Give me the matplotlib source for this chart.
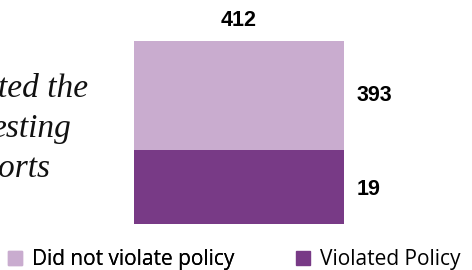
import matplotlib
matplotlib.use("Agg")
import matplotlib.pyplot as plt
from matplotlib.patches import Patch
import numpy as np

categories = ["Did not violate policy", "Violated Policy"]
violated = 19
not_violated = 393
total = violated + not_violated
side_lines = ["ted the", "esting", "orts"]

c_light = "#C9ACCF"
c_dark = "#783A86"

fig = plt.figure(figsize=(4.72, 2.70), dpi=100)
W, H = 472, 270
ax = fig.add_axes([134 / W, (H - 224) / H, (344 - 134) / W, (224 - 41) / H])

base = 2.35
ax.set_yscale("log")
ax.bar([0], [violated - base], bottom=[base], width=1.0, color=c_dark)
ax.bar([0], [not_violated], bottom=[violated], width=1.0, color=c_light)
ax.set_xlim(-0.5, 0.5)
ax.set_ylim(base, total)
ax.axis("off")

lab = dict(fontsize=15.5, fontweight="bold", family="Liberation Sans", color="black")
ax.annotate(str(total), (0, total), xytext=(0, 7), textcoords="offset points",
            ha="center", va="bottom", **lab)
ax.annotate(str(not_violated), (0.5, np.sqrt(violated * total)), xytext=(9, 0),
            textcoords="offset points", ha="left", va="center", **lab)
ax.annotate(str(violated), (0.5, np.sqrt(violated * base)), xytext=(9, -2),
            textcoords="offset points", ha="left", va="center", **lab)

# caption on the left is cut off by the picture edge, as in the source
ends = [88, 72, 50]
ys = [97, 137, 177]
for t, xe, y in zip(side_lines, ends, ys):
    fig.text(xe / W, 1 - y / H, t, ha="right", va="baseline", fontsize=24,
             family="Liberation Serif", style="italic", color="#111111")

leg_kw = dict(loc="center left", frameon=False, borderpad=0, borderaxespad=0,
              prop={"family": "Open Sans", "size": 15},
              handlelength=0.65, handleheight=0.65, handletextpad=0.5)
leg1 = fig.legend([Patch(color=c_light)], [categories[0]],
                  bbox_to_anchor=(8 / W, 1 - 260 / H), **leg_kw)
fig.add_artist(leg1)
fig.legend([Patch(color=c_dark)], [categories[1]],
           bbox_to_anchor=(296 / W, 1 - 260 / H), **leg_kw)

fig.savefig("out.png", dpi=100)
